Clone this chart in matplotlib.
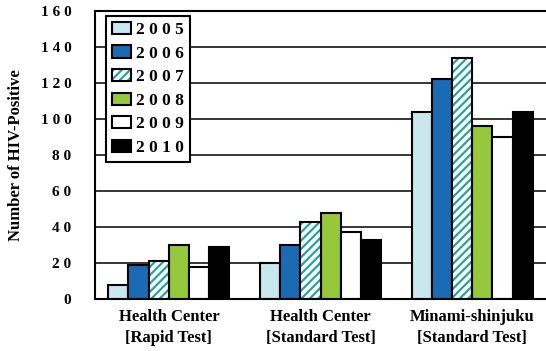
import matplotlib
matplotlib.use("Agg")
import matplotlib.pyplot as plt
from matplotlib.patches import Patch
from matplotlib.legend_handler import HandlerTuple
import numpy as np

# Data
sites = ["Health Center\n[Rapid Test]",
         "Health Center\n[Standard Test]",
         "Minami-shinjuku\n[Standard Test]"]
years = ["2005", "2006", "2007", "2008", "2009", "2010"]
counts_2005 = [8, 20, 104]
counts_2006 = [19, 30, 122]
counts_2007 = [21, 43, 134]
counts_2008 = [30, 48, 96]
counts_2009 = [18, 37, 90]
counts_2010 = [29, 33, 104]
y_ticks = [0, 20, 40, 60, 80, 100, 120, 140, 160]

series = [counts_2005, counts_2006, counts_2007, counts_2008, counts_2009, counts_2010]
fills = ["#c8e8ee", "#1a6ab4", "white", "#96c83c", "white", "black"]
teal = "#26a3a3"

plt.rcParams["font.family"] = ["Liberation Serif", "DejaVu Serif"]
plt.rcParams["font.weight"] = "bold"
plt.rcParams["hatch.linewidth"] = 1.6

W, H = 546, 351
fig = plt.figure(figsize=(W / 100, H / 100), dpi=100)
ax = fig.add_axes([95 / W, (H - 299) / H, 451 / W, 288 / H])

x = np.arange(len(sites))
bw = 0.1333
for i, (vals, fc) in enumerate(zip(series, fills)):
    pos = x + (i - 2.5) * bw
    if i == 2:
        ax.bar(pos, vals, bw, facecolor="white", edgecolor=teal,
               hatch="////", linewidth=0, zorder=2)
        ax.bar(pos, vals, bw, fill=False, edgecolor="black",
               linewidth=1.5, zorder=3)
    else:
        ax.bar(pos, vals, bw, facecolor=fc, edgecolor="black",
               linewidth=1.5, zorder=2)

ax.set_xlim(-0.487, 2.487)
ax.set_ylim(0, 160)
ax.set_yticks(y_ticks)
ax.set_yticklabels([" ".join(str(v)) for v in y_ticks], fontsize=11,
                   fontweight="bold")
ax.set_xticks(x)
ax.set_xticklabels(sites, fontsize=12, fontweight="bold", linespacing=1.45)
ax.tick_params(axis="y", length=0, pad=17)
ax.tick_params(axis="x", length=0, pad=7)

ax.yaxis.grid(True, color="black", linewidth=1.1)
ax.set_axisbelow(True)
ax.spines["right"].set_visible(False)
for s in ["left", "bottom", "top"]:
    ax.spines[s].set_linewidth(1.5)

ax.set_ylabel("Number of HIV-Positive", fontsize=12, fontweight="bold")
ax.yaxis.set_label_coords(-0.158, 0.5)

# Legend
handles = []
for i, fc in enumerate(fills):
    if i == 2:
        h = (Patch(facecolor="white", edgecolor=teal, hatch="////", linewidth=0),
             Patch(fill=False, edgecolor="black", linewidth=1.5))
    else:
        h = Patch(facecolor=fc, edgecolor="black", linewidth=1.5)
    handles.append(h)

leg = ax.legend(handles, [" ".join(y) for y in years],
                loc="upper left", bbox_to_anchor=(106 / W, 1 - 15.7 / H),
                bbox_transform=fig.transFigure, borderaxespad=0,
                prop={"weight": "bold", "size": 12.5},
                handlelength=1.1, handleheight=0.7, handletextpad=0.3,
                borderpad=0.35, labelspacing=0.43, fancybox=False,
                framealpha=1, edgecolor="black",
                handler_map={tuple: HandlerTuple(ndivide=1, pad=0)})
leg.get_frame().set_linewidth(1.5)
leg.set_zorder(5)

fig.savefig("out.png", dpi=100)
